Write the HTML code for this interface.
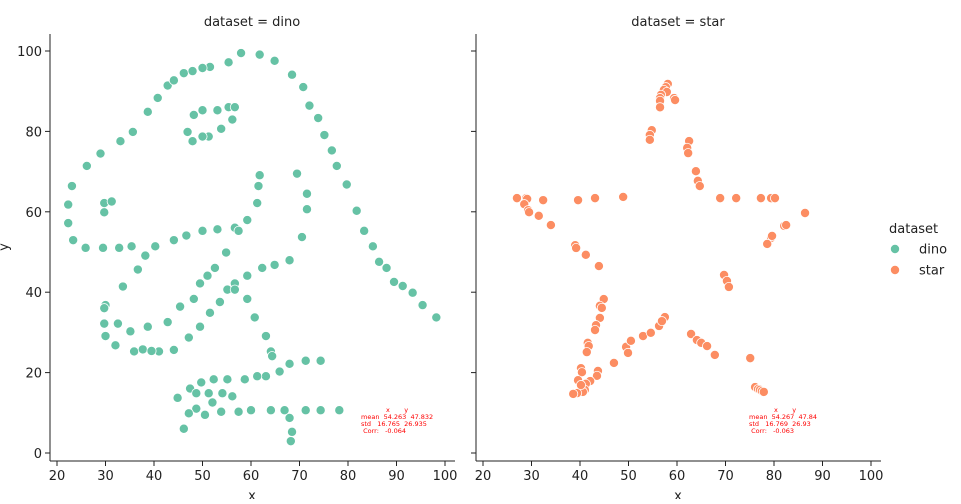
<!DOCTYPE html>
<html><head><meta charset="utf-8"><style>
body{margin:0;background:#fff;font-family:"Liberation Sans",sans-serif}
svg text{font-family:"DejaVu Sans","Liberation Sans",sans-serif}
.st{white-space:pre}
</style></head><body>
<svg id="chart" width="961" height="499" xmlns="http://www.w3.org/2000/svg"></svg>
<script>
const dinoX=[55.38,51.54,46.15,42.82,40.77,38.72,35.64,33.08,28.97,26.15,23.08,22.31,22.31,23.33,25.9,29.49,32.82,35.38,40.26,44.1,46.67,50,53.08,56.67,59.23,61.28,61.54,61.79,57.44,54.87,52.56,48.21,49.49,51.03,45.38,42.82,38.72,35.13,32.56,30,33.59,36.67,38.21,29.74,29.74,30,32.05,35.9,41.03,44.1,47.18,49.49,51.54,53.59,55.13,56.67,59.23,62.31,64.87,67.95,70.51,71.54,71.54,69.49,46.92,48.21,50,53.08,55.38,56.67,56.15,53.85,51.28,50,47.95,29.74,29.74,31.28,57.95,61.79,64.87,68.46,70.77,72.05,73.85,75.13,76.67,77.69,79.74,81.79,83.33,85.13,86.41,87.95,89.49,93.33,95.38,98.21,56.67,59.23,60.77,63.08,64.1,64.36,74.36,71.28,67.95,65.9,63.08,61.28,58.72,55.13,52.31,49.74,47.44,44.87,48.72,51.28,54.1,56.15,52.05,48.72,47.18,46.15,50.51,53.85,57.44,60,64.1,66.92,71.28,74.36,78.21,67.95,68.46,68.21,37.69,39.49,91.28,50,47.95,44.1];
const dinoY=[97.18,96.03,94.49,91.41,88.33,84.87,79.87,77.56,74.49,71.41,66.41,61.79,57.18,52.95,51.03,51.03,51.03,51.41,51.41,52.95,54.1,55.26,55.64,56.03,57.95,62.18,66.41,69.1,55.26,49.87,46.03,38.33,42.18,44.1,36.41,32.56,31.41,30.26,32.18,36.79,41.41,45.64,49.1,36.03,32.18,29.1,26.79,25.26,25.26,25.64,28.72,31.41,34.87,37.56,40.64,42.18,44.1,46.03,46.79,47.95,53.72,60.64,64.49,69.49,79.87,84.1,85.26,85.26,86.03,86.03,82.95,80.64,78.72,78.72,77.56,59.87,62.18,62.56,99.49,99.1,97.56,94.1,91.03,86.41,83.33,79.1,75.26,71.41,66.79,60.26,55.26,51.41,47.56,46.03,42.56,39.87,36.79,33.72,40.64,38.33,33.72,29.1,25.26,24.1,22.95,22.95,22.18,20.26,19.1,19.1,18.33,18.33,18.33,17.56,16.03,13.72,14.87,14.87,14.87,14.1,12.56,11.03,9.87,6.03,9.49,10.26,10.26,10.64,10.64,10.64,10.64,10.64,10.64,8.72,5.26,2.95,25.77,25.38,41.54,95.77,95,92.69];
const starX=[58.1,57.7,57.3,57.9,56.7,56.5,56.5,59.4,59.6,56.5,54.8,54.4,54.4,62.5,62.1,62.3,63.9,64.3,64.7,68.9,72.2,77.3,79.4,80.2,86.4,82.1,82.5,79.4,79.6,78.6,69.7,70.3,70.7,62.9,64.1,65.0,66.2,67.8,75.1,76.1,76.7,77.1,77.5,77.9,27.0,28.9,29.1,32.4,39.6,43.1,48.9,28.5,29.3,29.5,31.5,34.0,39.0,39.2,41.2,43.9,44.9,44.1,44.5,44.1,43.3,43.1,41.6,41.8,41.4,40.2,40.4,43.7,43.5,42.1,41.2,41.0,40.6,39.4,38.6,39.6,40.2,47.0,49.5,50.5,53.0,54.6,56.3,57.5,49.9,56.9];
const starY=[91.8,91.0,90.3,89.8,89.1,88.3,87.6,88.3,87.8,86.0,80.3,79.1,77.9,77.6,75.9,74.6,70.1,67.7,66.4,63.4,63.4,63.4,63.4,63.4,59.7,56.5,56.7,53.5,54.0,52.0,44.3,42.8,41.3,29.6,28.1,27.4,26.6,24.4,23.6,16.4,15.9,15.7,15.4,15.2,63.4,63.4,63.2,62.9,62.9,63.4,63.7,61.9,60.4,59.9,59.0,56.7,51.7,51.0,49.3,46.5,38.3,36.6,36.1,33.6,31.8,30.6,27.4,26.6,25.1,21.1,20.1,20.4,19.2,17.9,17.2,15.7,15.2,14.9,14.7,18.1,16.9,22.4,26.4,27.9,29.1,29.9,31.6,33.8,24.9,32.8];
const xTicks=[20,30,40,50,60,70,80,90,100];
const yTicks=[0,20,40,60,80,100];
const NS="http://www.w3.org/2000/svg";
const svg=document.getElementById('chart');
function mk(tag,attrs,parent,txt){const e=document.createElementNS(NS,tag);for(const k in attrs)e.setAttribute(k,attrs[k]);if(txt!==undefined)e.textContent=txt;(parent||svg).appendChild(e);return e;}
const yScale=v=>453-v*4.02;
const panels=[{name:'dino',left:50,x0:57,sx:361,xs:dinoX,ys:dinoY,color:'#66c2a5',stats:['mean  54.263  47.832','std   16.765  26.935',' Corr:   -0.064']},
{name:'star',left:476,x0:483,sx:749,xs:starX,ys:starY,color:'#fc8d62',stats:['mean  54.267  47.84','std   16.769  26.93',' Corr:   -0.063']}];
panels.forEach((p,pi)=>{
 const xScale=v=>p.x0+(v-20)*4.85;
 const g=mk('g',{});
 
 
 const t=mk('text',{x:p.left+202,y:26,'font-size':13,'text-anchor':'middle',fill:'#222'},g,'dataset = '+p.name);
 
 
 const ys=mk('line',{x1:p.left,y1:34,x2:p.left,y2:461,stroke:'#222','stroke-width':1},g);
 
 
 const xsl=mk('line',{x1:p.left,y1:461,x2:p.left+405,y2:461,stroke:'#222','stroke-width':1},g);
 
 
 xTicks.forEach(v=>{
  mk('line',{x1:xScale(v),y1:461,x2:xScale(v),y2:466,stroke:'#222'},g);
  const l=mk('text',{x:xScale(v),y:480,'font-size':13,'text-anchor':'middle',fill:'#222'},g,v);
  
  
 });
 yTicks.forEach(v=>{
  mk('line',{x1:p.left-5,y1:yScale(v),x2:p.left,y2:yScale(v),stroke:'#222'},g);
  if(pi===0){
   const l=mk('text',{x:p.left-8,y:yScale(v)+5,'font-size':13,'text-anchor':'end',fill:'#222'},g,v);
   
   
  }
 });
 const xl=mk('text',{x:p.left+202,y:500,'font-size':13,'text-anchor':'middle',fill:'#222'},g,'x');
 
 
 p.xs.forEach((xv,i)=>{
  const c=mk('circle',{cx:xScale(xv),cy:yScale(p.ys[i]),r:4.6,fill:p.color,stroke:'#fff','stroke-width':0.8},g);
  
  
 });
 const st=mk('g',{},g);
 
 
 mk('text',{x:p.sx+25,y:412,'font-size':6.5,fill:'#f00','class':'st'},st,'x       y');
 p.stats.forEach((s,i)=>mk('text',{x:p.sx,y:419+i*7,'font-size':6.5,fill:'#f00','class':'st'},st,s));
});
const yl=mk('text',{x:8,y:247,'font-size':13,'text-anchor':'middle',fill:'#222',transform:'rotate(-90 8 247)'},svg,'y');


const lg=mk('g',{});


mk('text',{x:889,y:233,'font-size':13,fill:'#222'},lg,'dataset');
[['dino','#66c2a5',249],['star','#fc8d62',270]].forEach(([n,c,y])=>{
 const e=mk('g',{},lg);
 
 
 mk('circle',{cx:895,cy:y,r:4.6,fill:c,stroke:'#fff','stroke-width':0.8},e);
 mk('text',{x:919,y:y+4.5,'font-size':13,fill:'#222'},e,n);
});
</script>
</body></html>
